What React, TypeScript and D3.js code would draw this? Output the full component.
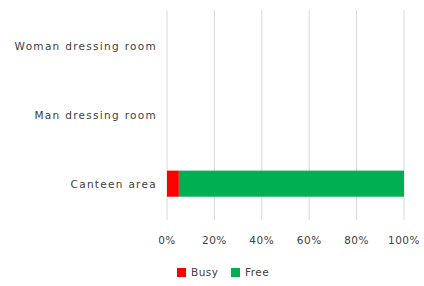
import * as d3 from 'd3';

const categories = ['Woman dressing room', 'Man dressing room', 'Canteen area'];
const busy = [0, 0, 5];
const free = [0, 0, 95];
const xTicks = [0, 20, 40, 60, 80, 100];
const seriesNames = ['Busy', 'Free'];
const seriesColors = ['#ff0000', '#00b050'];

const W = 424;
const H = 286;
const margin = { top: 12, right: 20, bottom: 68, left: 167 };

export default function App() {
  const x = d3.scaleLinear().domain([0, 100]).range([margin.left, W - margin.right]);
  const y = d3
    .scaleBand<string>()
    .domain(categories)
    .range([margin.top, H - margin.bottom])
    .paddingInner(0.62)
    .paddingOuter(0.31);

  const stacked = categories.map((c, i) => {
    const total = busy[i] + free[i];
    const b = total ? (busy[i] / total) * 100 : 0;
    const f = total ? (free[i] / total) * 100 : 0;
    return { c, segs: [[0, b], [b, b + f]] };
  });

  const font = "'DejaVu Sans', Verdana, sans-serif";
  const txt = '#404040';
  const fs = 10.5;

  return (
    <svg width={W} height={H} style={{ position: 'absolute', left: 0, top: 0, background: '#fff' }} fontFamily={font}>
      {xTicks.map((t) => (
        <g key={t}>
          <line x1={x(t)} x2={x(t)} y1={10} y2={220} stroke="#d9d9d9" strokeWidth={1} />
          <text x={x(t)} y={244} fontSize={fs} letterSpacing={0.5} fill={txt} textAnchor="middle">
            {t}%
          </text>
        </g>
      ))}
      {stacked.map((d) =>
        d.segs.map((s, j) =>
          s[1] > s[0] ? (
            <rect
              key={d.c + j}
              x={x(s[0])}
              y={y(d.c)!}
              width={x(s[1]) - x(s[0])}
              height={y.bandwidth()}
              fill={seriesColors[j]}
            />
          ) : null
        )
      )}
      {categories.map((c) => (
        <text key={c} x={margin.left - 10} y={y(c)! + y.bandwidth() / 2 + 4} fontSize={fs} letterSpacing={1.3} fill={txt} textAnchor="end">
          {c}
        </text>
      ))}
      {seriesNames.map((n, i) => {
        const lx = 177 + i * 54;
        return (
          <g key={n}>
            <rect x={lx} y={268} width={9} height={9} fill={seriesColors[i]} />
            <text x={lx + 14} y={276} fontSize={fs} letterSpacing={0.5} fill={txt}>
              {n}
            </text>
          </g>
        );
      })}
    </svg>
  );
}
